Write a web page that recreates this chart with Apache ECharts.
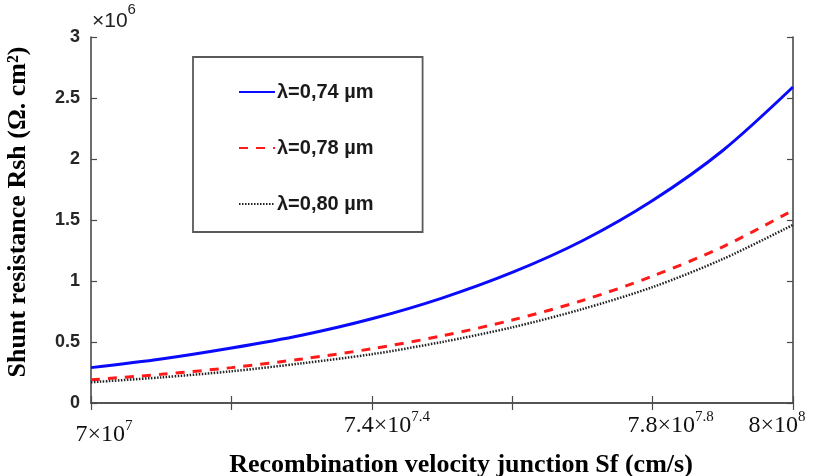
<!DOCTYPE html>
<html>
<head>
<meta charset="utf-8">
<script src="https://cdn.jsdelivr.net/npm/echarts@6/dist/echarts.min.js"></script>
<style>
  html, body { margin: 0; padding: 0; background: #fff; }
  #chart { width: 820px; height: 476px; }
</style>
</head>
<body>
<div id="chart"></div>
<script>
// log10 of the junction recombination velocity Sf (cm/s)
const logSf = [7.0, 7.1, 7.2, 7.3, 7.4, 7.5, 7.6, 7.7, 7.8, 7.9, 8.0];
// Shunt resistance Rsh, in units of 10^6 Ω·cm²
const rsh074 = [0.29, 0.36, 0.45, 0.555, 0.69, 0.86, 1.07, 1.33, 1.66, 2.07, 2.59];
const rsh078 = [0.19, 0.235, 0.29, 0.36, 0.445, 0.55, 0.68, 0.84, 1.04, 1.28, 1.58];
const rsh080 = [0.17, 0.21, 0.26, 0.325, 0.40, 0.50, 0.62, 0.77, 0.95, 1.18, 1.46];
const seriesNames = ['λ=0,74 µm', 'λ=0,78 µm', 'λ=0,80 µm'];
// x tick labels: mantissa text and exponent, keyed by log10(Sf)
const xTickText = { '7': ['7×10', '7'], '7.4': ['7.4×10', '7.4'], '7.8': ['7.8×10', '7.8'], '8': ['8×10', '8'] };
const yTicks = [0, 0.5, 1, 1.5, 2, 2.5, 3];

const pair = (ys) => logSf.map((x, i) => [x, ys[i]]);
const frame = '#4a4a4a';
const serif = '"Liberation Serif", "Times New Roman", serif';
const sans = '"Liberation Sans", Arial, sans-serif';

const chart = echarts.init(document.getElementById('chart'), null, { renderer: 'canvas' });

const xLabelRich = {
  b: { fontFamily: serif, fontSize: 24, color: '#111', verticalAlign: 'bottom', lineHeight: 28 },
  s: { fontFamily: serif, fontSize: 15, color: '#111', verticalAlign: 'top', lineHeight: 28 },
  g14: { width: 26 }, g15: { width: 30 }, g18: { width: 36 }, g16: { width: 32 },
  sp: { height: 9, lineHeight: 9 }
};

chart.setOption({
  animation: false,
  backgroundColor: '#fff',
  grid: { left: 91, right: 27, top: 37, bottom: 73, show: false, containLabel: false, outerBoundsMode: 'none' },
  legend: {
    left: 193, top: 57,
    orient: 'vertical',
    padding: [25, 49, 18, 45],
    itemWidth: 36, itemHeight: 20, itemGap: 36,
    borderColor: '#5a5a5a', borderWidth: 1.8,
    itemStyle: { opacity: 0 },
    textStyle: { fontFamily: sans, fontSize: 20, lineHeight: 20, fontWeight: 'bold', color: '#1a1a1a', padding: [0, 0, 0, -3] },
    data: seriesNames
  },
  graphic: [{
    type: 'text', left: 92, top: 2,
    style: {
      text: '{a|×10}{e|6}',
      rich: {
        a: { fontFamily: sans, fontSize: 21, fill: '#222', verticalAlign: 'bottom', lineHeight: 30 },
        e: { fontFamily: sans, fontSize: 15, fill: '#222', verticalAlign: 'top', lineHeight: 30 }
      }
    }
  }],
  xAxis: [{
    type: 'value', min: 7, max: 8, interval: 0.2, position: 'bottom',
    name: 'Recombination velocity junction Sf (cm/s)',
    nameLocation: 'middle', nameGap: 48,
    nameTextStyle: { fontFamily: serif, fontSize: 26, fontWeight: 'bold', color: '#000', padding: [0, 0, 0, 38] },
    axisLine: { lineStyle: { color: frame, width: 1.6 } },
    axisTick: { inside: true, length: 7, lineStyle: { color: frame, width: 1.2 } },
    splitLine: { show: false },
    axisLabel: {
      margin: 7, showMinLabel: true, showMaxLabel: true,
      formatter: (v) => {
        const key = String(Math.round(v * 10) / 10);
        const t = xTickText[key];
        if (!t) return '';
        if (key === '7') return '{sp|}\n{g14|}{b|' + t[0] + '}{s|' + t[1] + '}';
        if (key === '7.4') return '{g15|}{b|' + t[0] + '}{s|' + t[1] + '}';
        if (key === '7.8') return '{g18|}{b|' + t[0] + '}{s|' + t[1] + '}';
        return '{b|' + t[0] + '}{s|' + t[1] + '}{g16|}';
      },
      rich: xLabelRich
    }
  }, {
    type: 'value', min: 7, max: 8, interval: 0.2, position: 'top',
    axisLine: { show: true, lineStyle: { color: frame, width: 1.6 } },
    axisTick: { show: true, inside: true, length: 7, lineStyle: { color: frame, width: 1.2 } },
    axisLabel: { show: false }, splitLine: { show: false }
  }],
  yAxis: [{
    type: 'value', min: 0, max: 3, interval: 0.5, position: 'left',
    name: 'Shunt resistance Rsh (Ω. cm²)',
    nameLocation: 'middle', nameGap: 60, nameRotate: 90,
    nameTextStyle: { fontFamily: serif, fontSize: 26, fontWeight: 'bold', color: '#000', padding: [0, 0, 0, 16] },
    axisLine: { show: true, lineStyle: { color: frame, width: 1.6 } },
    axisTick: { show: true, inside: true, length: 6, lineStyle: { color: frame, width: 1.2 } },
    splitLine: { show: false },
    axisLabel: {
      margin: 11, fontFamily: sans, fontSize: 18, fontWeight: 'bold', color: '#262626',
      formatter: (v) => yTicks.includes(v) ? String(v) : ''
    }
  }, {
    type: 'value', min: 0, max: 3, interval: 0.5, position: 'right',
    axisLine: { show: true, lineStyle: { color: frame, width: 1.6 } },
    axisTick: { show: true, inside: true, length: 6, lineStyle: { color: frame, width: 1.2 } },
    axisLabel: { show: false }, splitLine: { show: false }
  }],
  series: [{
    name: seriesNames[0], type: 'line', smooth: 0.3, symbol: 'none',
    data: pair(rsh074),
    lineStyle: { color: '#0a0aff', width: 3, type: 'solid' },
    itemStyle: { color: '#0a0aff' }
  }, {
    name: seriesNames[1], type: 'line', smooth: 0.3, symbol: 'none',
    data: pair(rsh078),
    lineStyle: { color: '#ff1a1a', width: 3, type: [9, 8] },
    itemStyle: { color: '#ff1a1a' }
  }, {
    name: seriesNames[2], type: 'line', smooth: 0.3, symbol: 'none',
    data: pair(rsh080),
    lineStyle: { color: '#222', width: 2.5, type: [1.5, 1.5] },
    itemStyle: { color: '#222' }
  }]
});
</script>
</body>
</html>
